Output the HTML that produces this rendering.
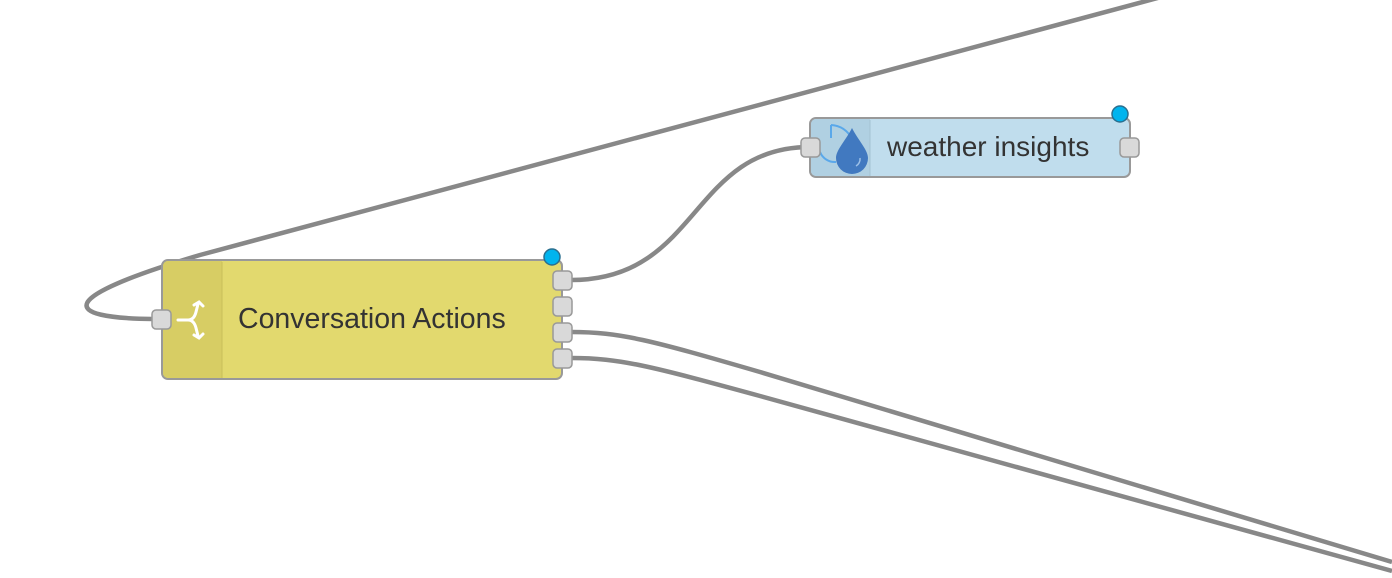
<!DOCTYPE html>
<html><head><style>
html,body{margin:0;padding:0;background:#fff;width:1392px;height:578px;overflow:hidden}
</style></head><body>
<svg width="1392" height="578" xmlns="http://www.w3.org/2000/svg" style="position:absolute;left:0;top:0">
<g fill="none" stroke="#888" stroke-width="4.5">
<path d="M153 319 C 60 318, 55 298, 200 255 L 1165 -4"/>
<path d="M571 280 C 700 280, 690 147, 810 147"/>
<path d="M571 332 C 620 332, 650 340, 760 372 L 1392 562"/>
<path d="M571 358 C 620 358, 650 366, 760 396 L 1392 571"/>
</g>
<!-- Conversation Actions -->
<rect x="162" y="260" width="400" height="119" rx="6" fill="#e2d96e" stroke="#999" stroke-width="2"/>
<path d="M168 261 H222 V378 H168 A5 5 0 0 1 163 373 V266 A5 5 0 0 1 168 261 Z" fill="#d7cd64"/>
<line x1="222" y1="262" x2="222" y2="378" stroke="#c8be5a" stroke-width="1"/>
<g stroke="#fff" stroke-width="3" fill="none" stroke-linecap="round">
<path d="M178 320 H188 Q194 320 196 312 L198 304"/>
<path d="M188 320 Q194 320 196 328 L198 336"/>
<path d="M194 305 L199 302 L203 306"/>
<path d="M194 335 L199 338 L203 334"/>
</g>
<text x="238" y="328" font-family="Liberation Sans, sans-serif" font-size="28.5" fill="#333">Conversation Actions</text>
<g fill="#d9d9d9" stroke="#999" stroke-width="1.5">
<rect x="152" y="310" width="19" height="19" rx="4"/>
<rect x="553" y="271" width="19" height="19" rx="4"/>
<rect x="553" y="297" width="19" height="19" rx="4"/>
<rect x="553" y="323" width="19" height="19" rx="4"/>
<rect x="553" y="349" width="19" height="19" rx="4"/>
</g>
<circle cx="552" cy="257" r="8" fill="#00b4ee" stroke="#2a6f8f" stroke-width="1.5"/>
<!-- weather insights -->
<rect x="810" y="118" width="320" height="59" rx="6" fill="#c0dded" stroke="#999" stroke-width="2"/>
<path d="M816 119 H870 V176 H816 A5 5 0 0 1 811 171 V124 A5 5 0 0 1 816 119 Z" fill="#b0d0e2"/>
<line x1="870" y1="120" x2="870" y2="176" stroke="#a3c2d3" stroke-width="1"/>
<path d="M831 125 A24 24 0 0 1 848 165 M831 125 V138 M820 152 A16 16 0 0 0 836 162" stroke="#5aa8ea" stroke-width="2" fill="none"/>
<path d="M852 128 C 846 140, 836 150, 836 158 A16 16 0 0 0 868 158 C 868 150, 858 140, 852 128 Z" fill="#4179c0"/>
<path d="M860 158 A8 8 0 0 1 856 166" stroke="#9cc0e8" stroke-width="1.5" fill="none"/>
<text x="887" y="156" font-family="Liberation Sans, sans-serif" font-size="28" fill="#333">weather insights</text>
<g fill="#d9d9d9" stroke="#999" stroke-width="1.5">
<rect x="801" y="138" width="19" height="19" rx="4"/>
<rect x="1120" y="138" width="19" height="19" rx="4"/>
</g>
<circle cx="1120" cy="114" r="8" fill="#00b4ee" stroke="#2a6f8f" stroke-width="1.5"/>
</svg>
</body></html>
